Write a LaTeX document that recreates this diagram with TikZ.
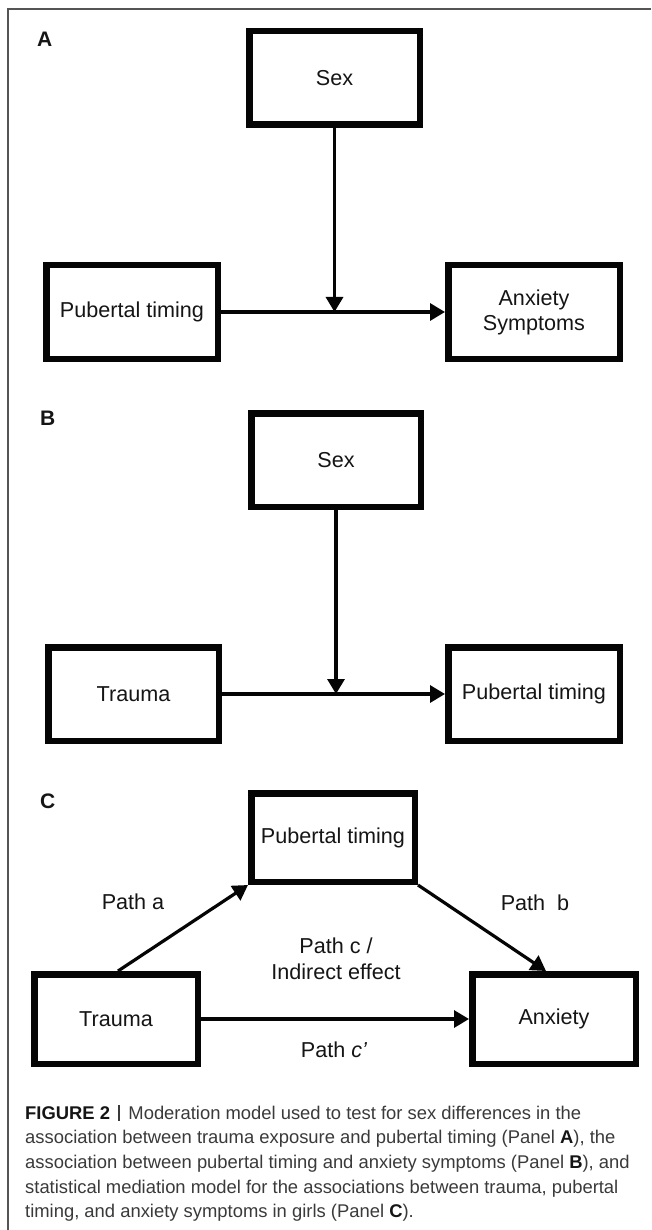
\documentclass[tikz,border=0pt]{standalone}
\usepackage{fontspec}
\setmainfont{Liberation Sans}
\usetikzlibrary{arrows.meta}
\definecolor{boxline}{HTML}{050505}
\definecolor{txt}{HTML}{151515}
\definecolor{captxt}{HTML}{3A3A3A}
\definecolor{framegray}{HTML}{555555}
\tikzset{
  varbox/.style={draw=boxline, line width=6.5pt, inner sep=0pt, align=center,
    text=txt, font=\fontsize{21.6}{25}\selectfont},
  conn/.style={line width=3.2pt, draw=boxline, -{Triangle[length=15pt,width=17pt]}},
  pathlbl/.style={text=txt, font=\fontsize{21.6}{26}\selectfont, align=center, inner sep=0pt},
  panellbl/.style={font=\bfseries\fontsize{21}{24}\selectfont, anchor=base west,
    inner sep=0pt, text=txt},
  capline/.style={font=\fontsize{18.4}{24}\selectfont, anchor=base west, inner sep=0pt,
    text=captxt},
  frameline/.style={draw=framegray, line width=1.3pt}
}
\begin{document}
\begin{tikzpicture}[x=1pt, y=-1pt]
\useasboundingbox (0,0) rectangle (651,1230);
\fill[white] (0,0) rectangle (651,1230);
% outer frame
\coordinate (fbl) at (8,1230);
\coordinate (ftl) at (8,9);
\coordinate (ftr) at (651,9);
\draw[frameline] (fbl) -- (ftl) -- (ftr);

% ---------- Panel A ----------
\node[panellbl] (labA) at (37,47) {A};
\node[varbox, minimum width=170.5pt, minimum height=93.5pt] (sexA) at (334.5,78) {Sex};
\node[varbox, minimum width=171.5pt, minimum height=93.5pt] (pubA) at (132,312) {Pubertal timing};
\node[varbox, minimum width=171.5pt, minimum height=93.5pt] (anxA) at (534,312) {Anxiety\\Symptoms};
\coordinate (mA) at (sexA.south |- pubA.east);
\draw[conn] (pubA.east) -- (anxA.west);
\draw[conn] (sexA.south) -- (mA);

% ---------- Panel B ----------
\node[panellbl] (labB) at (40,425) {B};
\node[varbox, minimum width=169.5pt, minimum height=93.5pt] (sexB) at (336,460) {Sex};
\node[varbox, minimum width=170.5pt, minimum height=93.5pt] (traumaB) at (133.5,694) {Trauma};
\node[varbox, minimum width=171.5pt, minimum height=93.5pt] (pubB) at (534,694) {Pubertal timing};
\coordinate (mB) at (sexB.south |- traumaB.east);
\draw[conn] (traumaB.east) -- (pubB.west);
\draw[conn] (sexB.south) -- (mB);

% ---------- Panel C ----------
\node[panellbl] (labC) at (40,808) {C};
\node[varbox, minimum width=163.5pt, minimum height=88.5pt] (pubC) at (333,837.5) {Pubertal timing};
\node[varbox, minimum width=163.5pt, minimum height=89.5pt] (traumaC) at (116,1019) {Trauma};
\node[varbox, minimum width=163.5pt, minimum height=89.5pt] (anxC) at (554,1019) {Anxiety};
\draw[conn] ([xshift=2pt]traumaC.north) -- (pubC.south west);
\draw[conn] (pubC.south east) -- ([xshift=-8pt]anxC.north);
\draw[conn] (traumaC.east) -- (anxC.west);

\node[pathlbl] (pa) at (133,902) {Path a};
\node[pathlbl] (pb) at (535,903) {Path\ \ b};
\node[pathlbl] (pc) at (336,959) {Path c /\\Indirect effect};
\node[pathlbl] (pcp) at (334,1050) {Path \textit{c’}};

% ---------- Caption ----------
\node[capline] (cap1) at (25,1119) {{\color{txt}\bfseries FIGURE 2}\hspace{8pt}{\color{captxt}\rule[-1.5pt]{2.4pt}{15.5pt}}\hspace{8pt}Moderation model used to test for sex differences in the};
\node[capline] (cap2) at (25,1143) {association between trauma exposure and pubertal timing (Panel {\color{txt}\bfseries A}), the};
\node[capline] (cap3) at (25,1168) {association between pubertal timing and anxiety symptoms (Panel {\color{txt}\bfseries B}), and};
\node[capline] (cap4) at (25,1193) {statistical mediation model for the associations between trauma, pubertal};
\node[capline] (cap5) at (25,1217) {timing, and anxiety symptoms in girls (Panel {\color{txt}\bfseries C}).};
\end{tikzpicture}
\end{document}
